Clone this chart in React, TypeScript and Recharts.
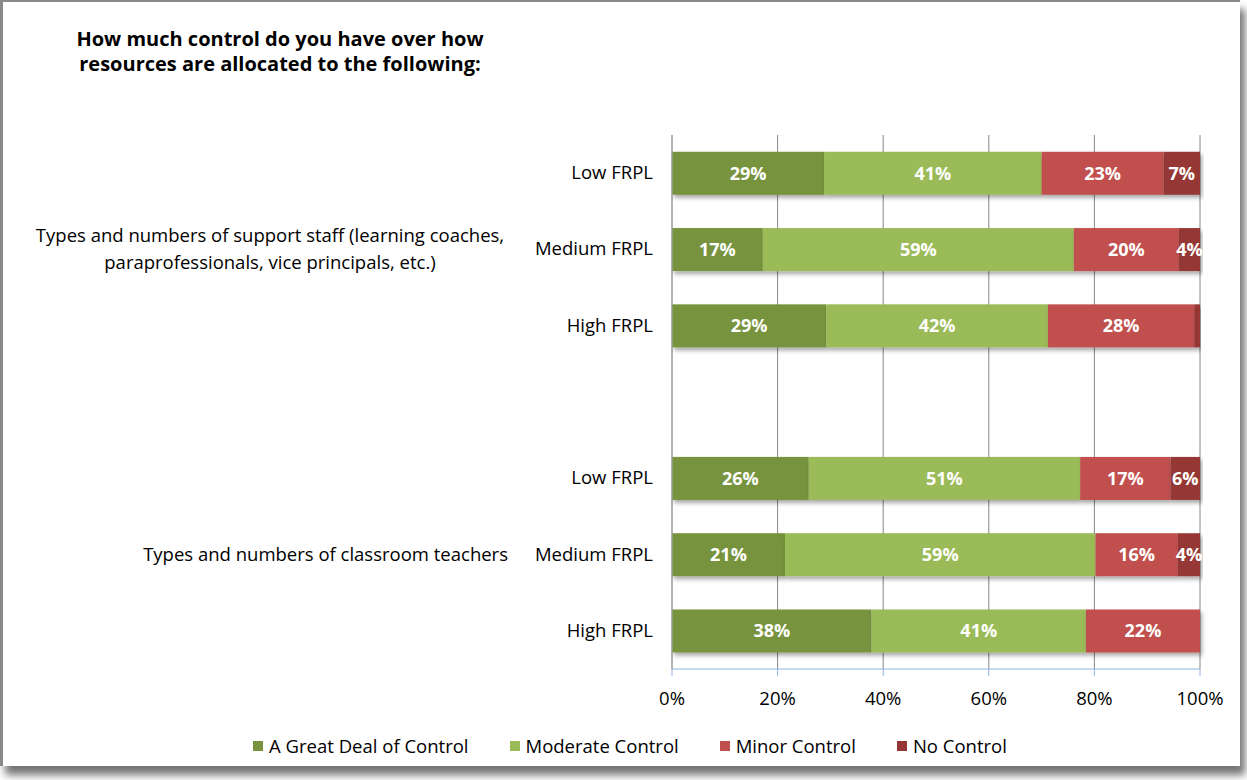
import React from "react";
import {
  BarChart,
  Bar,
  XAxis,
  YAxis,
  CartesianGrid,
  Legend,
  LabelList,
} from "recharts";

// Office 2007 palette
const DARK_GREEN = "#77933C";
const LIGHT_GREEN = "#9BBB59";
const RED = "#C0504D";
const DARK_RED = "#953735";
const FONT = "'Open Sans', sans-serif";
const FS = 18.5;

const title = ["How much control do you have over how", "resources are allocated to the following:"];
const groupLines = [
  ["Types and numbers of support staff (learning coaches,", "paraprofessionals, vice principals, etc.)"],
  ["Types and numbers of classroom teachers"],
];
const levels = ["Low FRPL", "Medium FRPL", "High FRPL"];

const seriesNames = ["A Great Deal of Control", "Moderate Control", "Minor Control", "No Control"];
const seriesColors = [DARK_GREEN, LIGHT_GREEN, RED, DARK_RED];

// rows: support staff low/med/high, classroom teachers low/med/high
const greatDeal = [28.8, 17.2, 29.2, 25.9, 21.4, 37.8];
const moderate = [41.2, 58.9, 42.0, 51.4, 58.8, 40.6];
const minor = [23.1, 19.9, 27.7, 17.1, 15.6, 21.6];
const noControl = [6.9, 4.0, 1.1, 5.6, 4.2, 0];

const xTicks = [0, 0.2, 0.4, 0.6, 0.8, 1];

type Row = {
  id: string;
  level: string;
  group?: string[];
  s0?: number;
  s1?: number;
  s2?: number;
  s3?: number;
};

const rows: Row[] = [];
groupLines.forEach((lines, g) => {
  if (g > 0) rows.push({ id: "gap", level: "" });
  levels.forEach((lvl, i) => {
    const k = g * levels.length + i;
    rows.push({
      id: `r${k}`,
      level: lvl,
      group: i === 1 ? lines : undefined,
      s0: greatDeal[k],
      s1: moderate[k],
      s2: minor[k],
      s3: noControl[k],
    });
  });
});

const rowById: Record<string, Row> = {};
rows.forEach((r) => (rowById[r.id] = r));

function CategoryTick(props: any) {
  const { x, y, payload } = props;
  const row = rowById[payload.value];
  if (!row || !row.level) return null;
  const lines = row.group;
  const multi = lines && lines.length > 1;
  return (
    <g>
      <text x={x} y={y} dy={6} textAnchor="end" fontSize={FS} fontFamily={FONT} fill="#000">
        {row.level}
      </text>
      {lines && (
        <text fontSize={FS} fontFamily={FONT} fill="#000" textAnchor={multi ? "middle" : "end"}>
          {lines.map((l, i) => (
            <tspan key={i} x={multi ? 270 : 508} y={y + 6 + (i - (lines.length - 1) / 2) * 27}>
              {l}
            </tspan>
          ))}
        </text>
      )}
    </g>
  );
}

function ShadowBar(props: any) {
  const { x, y, width, height, fill } = props;
  if (!width || width <= 0) return null;
  return <rect x={x} y={y} width={width} height={height} fill={fill} filter="url(#barShadow)" />;
}

function LegendContent() {
  return (
    <div
      style={{
        display: "flex",
        justifyContent: "center",
        alignItems: "center",
        gap: 41,
        fontFamily: FONT,
        fontSize: FS,
        color: "#000",
        paddingLeft: 60,
      }}
    >
      {seriesNames.map((n, i) => (
        <div key={n} style={{ display: "flex", alignItems: "center" }}>
          <span
            style={{ width: 10, height: 10, background: seriesColors[i], display: "inline-block", marginRight: 6 }}
          />
          <span>{n}</span>
        </div>
      ))}
    </div>
  );
}

const pctLabel = (v: any) => (typeof v === "number" && v >= 2 ? `${Math.round(v)}%` : "");

export default function App() {
  const keys = ["s0", "s1", "s2", "s3"];
  return (
    <div style={{ position: "absolute", left: 0, top: 0, width: 1247, height: 780, background: "#fff" }}>
      <svg width={0} height={0} style={{ position: "absolute" }}>
        <defs>
          <filter id="barShadow" x="-5%" y="-20%" width="115%" height="160%">
            <feDropShadow dx="2" dy="3" stdDeviation="2" floodColor="#000" floodOpacity="0.35" />
          </filter>
        </defs>
      </svg>
      <div
        style={{
          position: "absolute",
          left: 0,
          top: 0,
          width: 1237,
          height: 764,
          borderTop: "2px solid #8a8a8a",
          borderLeft: "3px solid #8a8a8a",
          boxShadow: "5px 9px 8px rgba(0,0,0,0.55)",
          background: "#fff",
        }}
      />
      <div
        style={{
          position: "absolute",
          left: 40,
          top: 26,
          width: 480,
          textAlign: "center",
          fontFamily: FONT,
          fontWeight: "bold",
          fontSize: 20,
          lineHeight: "25px",
          color: "#000",
        }}
      >
        {title.map((t) => (
          <div key={t}>{t}</div>
        ))}
      </div>
      <div style={{ position: "absolute", left: 0, top: 0 }}>
        <BarChart
          width={1247}
          height={780}
          data={rows}
          layout="vertical"
          stackOffset="expand"
          barCategoryGap="22%"
          margin={{ top: 135, right: 47, left: 0, bottom: 7 }}
        >
          <CartesianGrid horizontal={false} stroke="#868686" />
          <XAxis
            type="number"
            domain={[0, 1]}
            ticks={xTicks}
            tickFormatter={(v) => `${Math.round(v * 100)}%`}
            height={64}
            tick={{ fontSize: FS, fontFamily: FONT, fill: "#000" }}
            axisLine={{ stroke: "#8EB4E3" }}
            tickLine={{ stroke: "#8EB4E3" }}
            tickSize={7}
            tickMargin={16}
          />
          <YAxis
            type="category"
            dataKey="id"
            width={672}
            tick={<CategoryTick />}
            tickLine={false}
            axisLine={{ stroke: "#A6A6A6" }}
            tickMargin={13}
            interval={0}
          />
          <Legend verticalAlign="bottom" height={40} content={<LegendContent />} />
          {keys.map((k, i) => (
            <Bar
              key={k}
              dataKey={k}
              name={seriesNames[i]}
              stackId="a"
              fill={seriesColors[i]}
              isAnimationActive={false}
              shape={<ShadowBar />}
            >
              <LabelList
                dataKey={k}
                position="center"
                formatter={pctLabel}
                fill="#fff"
                fontSize={18}
                fontWeight="bold"
                fontFamily={FONT}
              />
            </Bar>
          ))}
        </BarChart>
      </div>
    </div>
  );
}
